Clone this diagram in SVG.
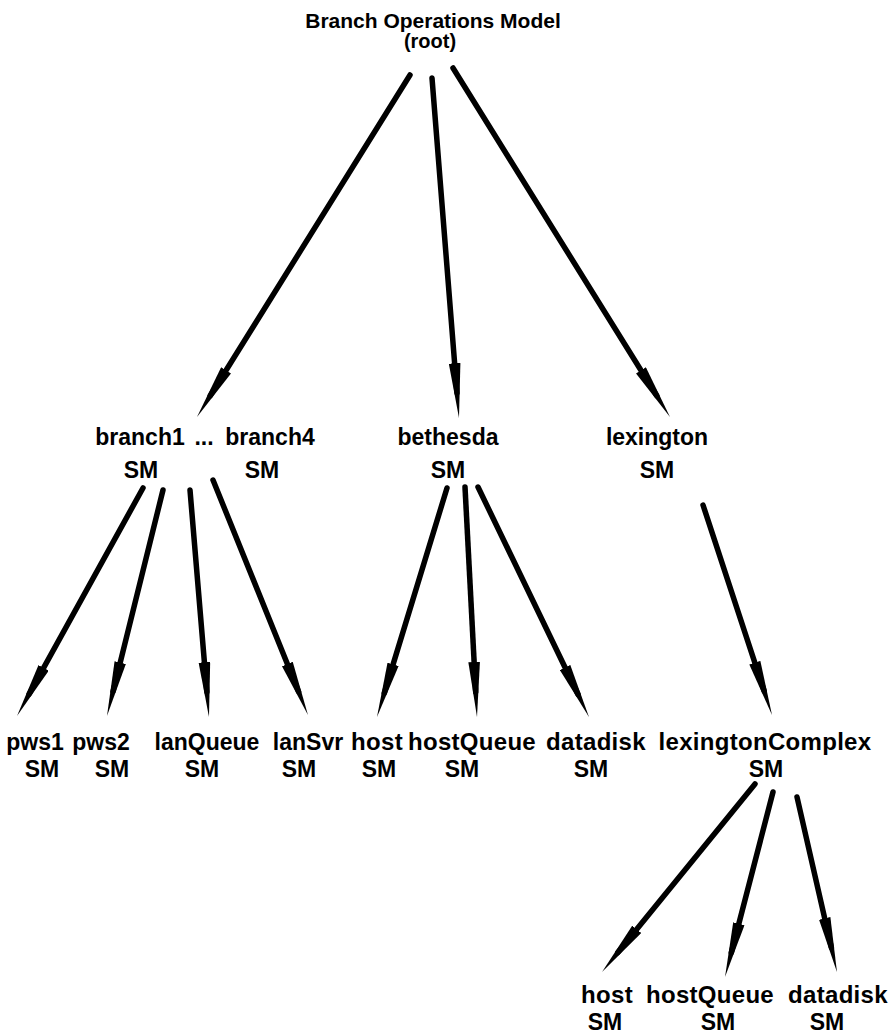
<svg xmlns="http://www.w3.org/2000/svg" width="895" height="1036" viewBox="0 0 895 1036">
  <defs>
    <!-- long, narrow arrowhead; tip sits 25 units past the end of each shaft -->
    <marker id="head" markerUnits="userSpaceOnUse" markerWidth="56" markerHeight="12" viewBox="0 -6 56 12" refX="30" refY="0" orient="auto">
      <path d="M0,-5.8 L55,0 L0,5.8 Z" fill="#000"/>
    </marker>
    <style>
      .lbl { font-family: "Liberation Sans", Arial, Helvetica, sans-serif; font-weight: bold; font-size: 23px; fill: #000; text-anchor: middle; }
      .leaf { font-size: 24px; letter-spacing: 0.3px; }
      .root { font-size: 21px; }
      .sub { font-size: 20px; }
      .edge { stroke: #000; stroke-width: 5.5; stroke-linecap: round; fill: none; marker-end: url(#head); }
    </style>
  </defs>
  <rect width="895" height="1036" fill="#fff"/>

  <!-- connectors -->
  <g id="connectors">
    <line class="edge" x1="410" y1="75" x2="210.2" y2="395.8"/>
    <line class="edge" x1="432" y1="78" x2="457.0" y2="393.1"/>
    <line class="edge" x1="453" y1="68" x2="656.8" y2="395.8"/>

    <line class="edge" x1="143" y1="488" x2="29.1" y2="694.1"/>
    <line class="edge" x1="163" y1="490" x2="113.0" y2="691.7"/>
    <line class="edge" x1="190" y1="490" x2="206.9" y2="692.1"/>
    <line class="edge" x1="213" y1="480" x2="298.6" y2="691.8"/>

    <line class="edge" x1="447" y1="488" x2="384.3" y2="693.1"/>
    <line class="edge" x1="465" y1="487" x2="475.7" y2="692.0"/>
    <line class="edge" x1="478" y1="487" x2="578.1" y2="694.5"/>

    <line class="edge" x1="703" y1="505" x2="764.2" y2="691.2"/>

    <line class="edge" x1="755" y1="784" x2="617.8" y2="952.6"/>
    <line class="edge" x1="773" y1="792" x2="731.3" y2="952.8"/>
    <line class="edge" x1="797" y1="797" x2="831.4" y2="947.6"/>
  </g>

  <!-- root -->
  <g id="root">
    <text class="lbl root" x="433" y="28">Branch Operations Model</text>
    <text class="lbl sub" x="430" y="48">(root)</text>
  </g>

  <!-- second level -->
  <g id="branches">
    <text class="lbl" x="140" y="445">branch1</text>
    <text class="lbl" x="204" y="445">...</text>
    <text class="lbl" x="270" y="445">branch4</text>
    <text class="lbl" x="141" y="478">SM</text>
    <text class="lbl" x="262" y="478">SM</text>
  </g>
  <g id="bethesda">
    <text class="lbl" x="448" y="445">bethesda</text>
    <text class="lbl" x="448" y="478">SM</text>
  </g>
  <g id="lexington">
    <text class="lbl" x="657" y="445">lexington</text>
    <text class="lbl" x="657" y="478">SM</text>
  </g>

  <!-- third level -->
  <g id="pws1">
    <text class="lbl" x="35" y="750">pws1</text>
    <text class="lbl" x="42" y="777">SM</text>
  </g>
  <g id="pws2">
    <text class="lbl" x="101" y="750">pws2</text>
    <text class="lbl" x="112" y="777">SM</text>
  </g>
  <g id="lanQueue">
    <text class="lbl" x="207" y="750">lanQueue</text>
    <text class="lbl" x="202" y="777">SM</text>
  </g>
  <g id="lanSvr">
    <text class="lbl" x="308" y="750">lanSvr</text>
    <text class="lbl" x="299" y="777">SM</text>
  </g>
  <g id="bethesda-host">
    <text class="lbl leaf" x="377" y="750">host</text>
    <text class="lbl" x="379" y="777">SM</text>
  </g>
  <g id="bethesda-hostQueue">
    <text class="lbl leaf" x="472" y="750">hostQueue</text>
    <text class="lbl" x="462" y="777">SM</text>
  </g>
  <g id="bethesda-datadisk">
    <text class="lbl leaf" x="596" y="750">datadisk</text>
    <text class="lbl" x="591" y="777">SM</text>
  </g>
  <g id="lexingtonComplex">
    <text class="lbl leaf" x="765" y="750">lexingtonComplex</text>
    <text class="lbl" x="766" y="777">SM</text>
  </g>

  <!-- fourth level -->
  <g id="lex-host">
    <text class="lbl leaf" x="607" y="1003">host</text>
    <text class="lbl" x="605" y="1030">SM</text>
  </g>
  <g id="lex-hostQueue">
    <text class="lbl leaf" x="710" y="1003">hostQueue</text>
    <text class="lbl" x="718" y="1030">SM</text>
  </g>
  <g id="lex-datadisk">
    <text class="lbl leaf" x="838" y="1003">datadisk</text>
    <text class="lbl" x="827" y="1030">SM</text>
  </g>
</svg>
